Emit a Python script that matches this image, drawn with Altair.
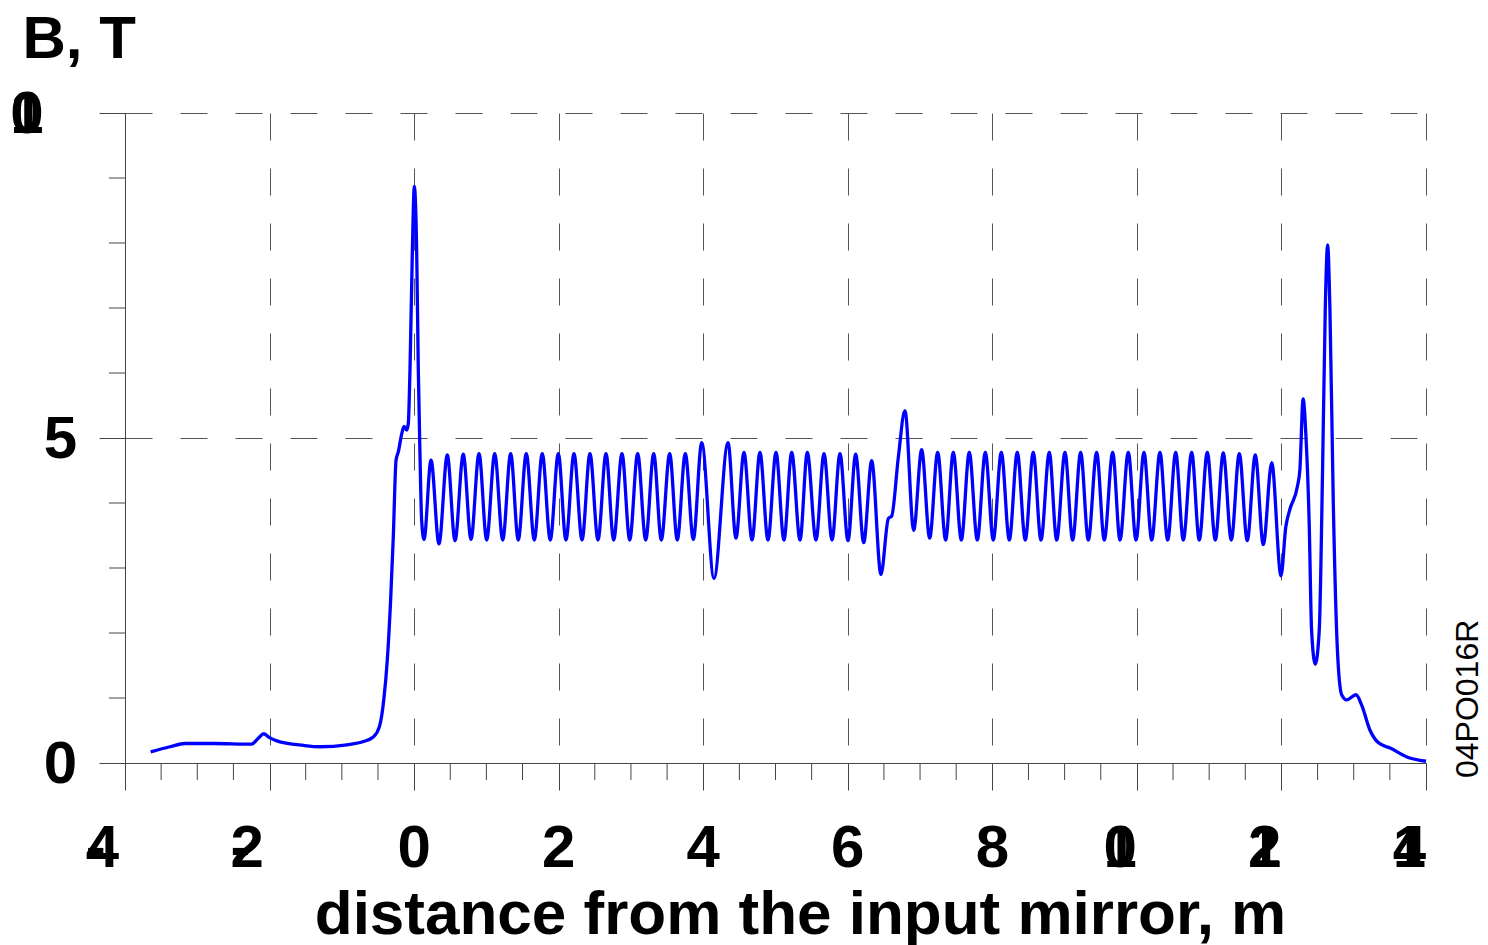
import altair as alt
import pandas as pd

# ---------------- values ----------------
# field along the axis: distance from the input mirror (m) and B (T)
entry_x = [-3.645, -3.38, -3.17, -2.78, -2.25, -2.155, -2.08, -2.0, -1.90, -1.53,
           -1.30, -0.93, -0.70, -0.565, -0.48, -0.42, -0.37, -0.324, -0.288, -0.25,
           -0.218, -0.17, -0.139, -0.102, -0.08, -0.057, -0.025, 0.003, 0.036, 0.058,
           0.081, 0.104, 0.137]
entry_b = [0.17, 0.25, 0.30, 0.30, 0.29, 0.38, 0.45, 0.39, 0.34, 0.27,
           0.25, 0.28, 0.33, 0.40, 0.56, 0.97, 1.60, 2.53, 3.48, 4.66,
           4.79, 5.07, 5.18, 5.12, 5.23, 6.05, 7.84, 8.87, 7.84, 6.05,
           4.76, 3.74, 3.44]

# first wiggler section: alternating peaks / troughs
sec1_x = [0.234, 0.344, 0.459, 0.566, 0.680, 0.787, 0.898, 1.004, 1.115, 1.226,
          1.336, 1.441, 1.552, 1.663, 1.773, 1.884, 1.995, 2.101, 2.212, 2.323,
          2.433, 2.544, 2.655, 2.761, 2.876, 2.983, 3.093, 3.204, 3.315, 3.420,
          3.536, 3.641, 3.752, 3.863]
sec1_b = [4.66, 3.37, 4.74, 3.42, 4.75, 3.44, 4.76, 3.43, 4.76, 3.43,
          4.76, 3.43, 4.76, 3.43, 4.76, 3.43, 4.76, 3.43, 4.76, 3.43,
          4.76, 3.43, 4.76, 3.43, 4.76, 3.43, 4.76, 3.43, 4.76, 3.43,
          4.76, 3.43, 4.76, 3.44]

gap1_x = [3.979, 4.149, 4.343]
gap1_b = [4.93, 2.84, 4.93]

sec2_x = [4.453, 4.564, 4.675, 4.785, 4.896, 5.007, 5.117, 5.224, 5.339, 5.440,
          5.560, 5.671, 5.782, 5.892, 6.003, 6.109, 6.220, 6.331]
sec2_b = [3.46, 4.78, 3.43, 4.78, 3.43, 4.78, 3.43, 4.78, 3.43, 4.78,
          3.43, 4.76, 3.43, 4.76, 3.42, 4.75, 3.39, 4.65]

gap2_x = [6.459, 6.561, 6.608, 6.70, 6.791, 6.912]
gap2_b = [2.90, 3.76, 3.80, 4.71, 5.42, 3.58]

sec3_x = [7.022, 7.133, 7.244, 7.354, 7.460, 7.571, 7.681, 7.792, 7.903, 8.013,
          8.124, 8.235, 8.345, 8.456, 8.566, 8.673, 8.788, 8.890, 9.005, 9.111,
          9.222, 9.328, 9.443, 9.549, 9.665, 9.766, 9.881, 9.988, 10.098, 10.205,
          10.319, 10.426, 10.537, 10.642, 10.758, 10.863, 10.974, 11.085, 11.195, 11.306,
          11.417, 11.527, 11.638, 11.749, 11.865]
sec3_b = [4.82, 3.46, 4.78, 3.43, 4.78, 3.43, 4.78, 3.43, 4.78, 3.43,
          4.78, 3.43, 4.78, 3.43, 4.78, 3.43, 4.78, 3.43, 4.78, 3.43,
          4.78, 3.43, 4.78, 3.43, 4.78, 3.43, 4.78, 3.43, 4.78, 3.43,
          4.78, 3.43, 4.78, 3.43, 4.78, 3.43, 4.78, 3.43, 4.77, 3.43,
          4.76, 3.42, 4.74, 3.36, 4.62]

exit_x = [11.994, 12.06, 12.116, 12.222, 12.255, 12.30, 12.338, 12.384, 12.417, 12.468,
          12.523, 12.569, 12.606, 12.639, 12.671, 12.718, 12.773, 12.833, 12.903, 13.032,
          13.11, 13.227, 13.343, 13.505, 13.736, 14.0]
exit_b = [2.88, 3.63, 3.90, 4.26, 4.51, 5.60, 5.05, 3.68, 2.04, 1.52,
          2.04, 4.51, 6.97, 7.97, 6.97, 3.96, 1.77, 1.05, 0.97, 1.05,
          0.89, 0.50, 0.31, 0.23, 0.093, 0.027]

x_tick_values = [-4, -2, 0, 2, 4, 6, 8, 10, 12, 14]
x_tick_labels = ["-4", "-2", "0", "2", "4", "6", "8", "10", "12", "14"]
y_tick_values = [0, 5, 10]
y_tick_labels = ["0", "5", "10"]
x_title = "distance from the input mirror, m"
y_title = "B, T"
figure_code = "04PO016R"

# ---------------- layout / style ----------------
W, H = 1301, 650
PAD = {"left": 125, "top": 113, "right": 62, "bottom": 182}
X_DOMAIN = [-4, 14]
Y_DOMAIN = [0, 10]
FONT = "Liberation Sans"
LABEL_SIZE = 60
AX = "#444444"
GRID = "#555555"
DASH = [27, 28]
ADVANCE = {"-": 0.75}   # advance (em) used to place a label's start; digits 0.556
px_per_x = W / (X_DOMAIN[1] - X_DOMAIN[0])


def advance(s):
    return sum(ADVANCE.get(c, 0.556) for c in s) * LABEL_SIZE


segments = [(entry_x, entry_b), (sec1_x, sec1_b), (gap1_x, gap1_b), (sec2_x, sec2_b),
            (gap2_x, gap2_b), (sec3_x, sec3_b), (exit_x, exit_b)]
xs_all, bs_all = [], []
for sx, sb in segments:
    assert len(sx) == len(sb)
    xs_all += sx
    bs_all += sb
curve = pd.DataFrame({"distance": xs_all, "B": bs_all})

# tick label glyphs: every glyph of a label is drawn at the label's start, as in the reference
rows = []
for v, s in zip(x_tick_values, x_tick_labels):
    start = v - advance(s) / 2 / px_per_x
    for c in s:
        rows.append({"gx": start, "ch": c})
xlab = pd.DataFrame(rows)

rows = []
for v, s in zip(y_tick_values, y_tick_labels):
    start_px = -48 - advance(s)
    for c in s:
        rows.append({"gx": X_DOMAIN[0] + start_px / px_per_x, "val": v, "ch": c})
ylab = pd.DataFrame(rows)

x_minor = pd.DataFrame({"t": [X_DOMAIN[0] + 0.5 * k for k in range(37) if k % 4 != 0]})
y_minor = pd.DataFrame({"t": [k for k in range(1, 10) if k != 5]})

xs = alt.Scale(domain=X_DOMAIN, nice=False, zero=False)
ys = alt.Scale(domain=Y_DOMAIN, nice=False, zero=False)

x_axis = alt.Axis(
    values=x_tick_values, labels=False, tickSize=27, tickColor=AX, tickWidth=1,
    domainColor=AX, domainWidth=1, grid=True, gridDash=DASH, gridColor=GRID,
    gridWidth=1, gridOpacity=1, title=x_title, titleFont=FONT, titleFontSize=62,
    titleFontWeight="bold", titleColor="black", titleX=675, titleY=170,
    titleAlign="center", titleBaseline="alphabetic")
y_axis = alt.Axis(
    values=y_tick_values, labels=False, tickSize=26, tickColor=AX, tickWidth=1,
    domainColor=AX, domainWidth=1, grid=True, gridDash=DASH, gridColor=GRID,
    gridWidth=1, gridOpacity=1, title=y_title, titleFont=FONT, titleFontSize=60,
    titleFontWeight="bold", titleColor="black", titleAngle=0, titleX=-103,
    titleY=-56, titleAlign="left", titleBaseline="alphabetic")

line = alt.Chart(curve).mark_line(
    color="#0000ff", strokeWidth=3.3, interpolate="monotone"
).encode(
    x=alt.X("distance:Q", scale=xs, axis=x_axis),
    y=alt.Y("B:Q", scale=ys, axis=y_axis),
)

x_minor_ticks = alt.Chart(x_minor).mark_rule(color=AX, strokeWidth=1).encode(
    x=alt.X("t:Q", scale=xs, axis=x_axis), y=alt.value(H), y2=alt.value(H + 17))
y_minor_ticks = alt.Chart(y_minor).mark_rule(color=AX, strokeWidth=1).encode(
    y=alt.Y("t:Q", scale=ys, axis=y_axis), x=alt.value(-16), x2=alt.value(0))

x_labels = alt.Chart(xlab).mark_text(
    align="left", baseline="alphabetic", font=FONT, fontSize=LABEL_SIZE,
    fontWeight="bold", color="black"
).encode(x=alt.X("gx:Q", scale=xs, axis=x_axis), y=alt.value(H + 104), text="ch:N")

y_labels = alt.Chart(ylab).mark_text(
    align="left", baseline="alphabetic", font=FONT, fontSize=LABEL_SIZE,
    fontWeight="bold", color="black", dy=20
).encode(x=alt.X("gx:Q", scale=xs, axis=x_axis),
         y=alt.Y("val:Q", scale=ys, axis=y_axis), text="ch:N")

code = alt.Chart(pd.DataFrame({"t": [figure_code]})).mark_text(
    angle=270, align="left", baseline="alphabetic", font=FONT, fontSize=32, color="black"
).encode(x=alt.value(1353), y=alt.value(665), text="t:N")

chart = alt.layer(line, x_minor_ticks, y_minor_ticks, x_labels, y_labels, code).properties(
    width=W, height=H,
    autosize=alt.AutoSizeParams(type="none"),
    padding=PAD,
).configure_view(stroke=None)

chart.save("out.html", embed_options={"renderer": "svg", "actions": False})
